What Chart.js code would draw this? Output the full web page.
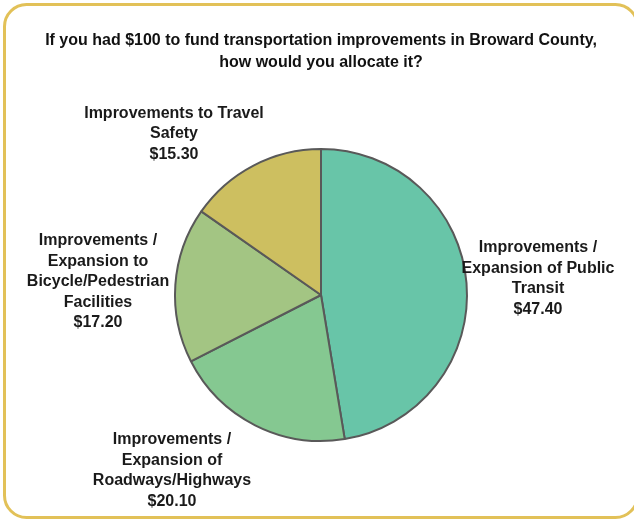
<!DOCTYPE html>
<html>
<head>
<meta charset="utf-8">
<script src="https://cdn.jsdelivr.net/npm/chart.js@4.4.1/dist/chart.umd.min.js"></script>
<style>
html,body{margin:0;padding:0;background:#fff;}
#wrap{width:634px;height:519px;position:relative;}
</style>
</head>
<body>
<div id="wrap"><canvas id="c" width="634" height="519"></canvas></div>
<script>
const titleLines = ["If you had $100 to fund transportation improvements in Broward County,", "how would you allocate it?"];
const categories = [
  "Improvements / Expansion of Public Transit",
  "Improvements / Expansion of Roadways/Highways",
  "Improvements / Expansion to Bicycle/Pedestrian Facilities",
  "Improvements to Travel Safety"
];
const labelLines = [
  ["Improvements /", "Expansion of Public", "Transit"],
  ["Improvements /", "Expansion of", "Roadways/Highways"],
  ["Improvements /", "Expansion to", "Bicycle/Pedestrian", "Facilities"],
  ["Improvements to Travel", "Safety"]
];
const values = [47.40, 20.10, 17.20, 15.30];
const colors = ["#68C5A8", "#85C891", "#A3C583", "#CDBF60"];

const FONT = "'Liberation Sans', Arial, sans-serif";

const frame = {
  id: 'frame',
  beforeDraw(chart) {
    const ctx = chart.ctx;
    ctx.save();
    ctx.fillStyle = '#fff';
    ctx.fillRect(0, 0, chart.width, chart.height);
    ctx.strokeStyle = '#E2C158';
    ctx.lineWidth = 3;
    ctx.beginPath();
    ctx.roundRect(4.5, 4.5, 633, 513, 22);
    ctx.stroke();
    ctx.restore();
  }
};

const sliceLabels = {
  id: 'sliceLabels',
  afterDatasetsDraw(chart, args, opts) {
    const ctx = chart.ctx;
    const meta = chart.getDatasetMeta(0);
    ctx.save();
    ctx.font = 'bold ' + opts.size + 'px ' + FONT;
    ctx.fillStyle = '#1a1a1a';
    ctx.textAlign = 'center';
    ctx.textBaseline = 'middle';
    meta.data.forEach((arc, i) => {
      const lines = labelLines[i].concat(['$' + values[i].toFixed(2)]);
      const off = opts.offsets[i];
      const cx = arc.x + off[0];
      const cy = arc.y + off[1];
      const lh = opts.lineHeight;
      const y0 = cy - (lines.length - 1) * lh / 2;
      lines.forEach((t, j) => ctx.fillText(t, cx, y0 + j * lh));
    });
    ctx.restore();
  }
};

new Chart(document.getElementById('c'), {
  type: 'pie',
  data: {
    labels: categories,
    datasets: [{
      data: values,
      backgroundColor: colors,
      borderColor: '#595959',
      borderWidth: 2
    }]
  },
  options: {
    responsive: false,
    animation: false,
    layout: { padding: { left: 8, right: 0, top: 0, bottom: 77 } },
    plugins: {
      legend: { display: false },
      tooltip: { enabled: false },
      title: {
        display: true,
        text: titleLines,
        color: '#111',
        font: { family: FONT, size: 16, weight: 'bold', lineHeight: 1.375 },
        padding: { top: 30, bottom: 74 }
      },
      sliceLabels: {
        size: 16,
        lineHeight: 20.5,
        offsets: [[217, -16.5], [-149, 175.5], [-223, -13], [-147, -161]]
      }
    }
  },
  plugins: [frame, sliceLabels]
});
</script>
</body>
</html>
